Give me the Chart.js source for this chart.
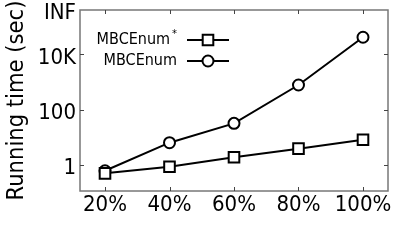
<!DOCTYPE html>
<html>
<head>
<meta charset="utf-8">
<script src="https://cdn.jsdelivr.net/npm/chart.js@4/dist/chart.umd.min.js"></script>
<style>
  html, body { margin: 0; padding: 0; background: #fff; }
</style>
</head>
<body>
<canvas id="report" width="407" height="244"></canvas>
<script>
const categories = ['20%', '40%', '60%', '80%', '100%'];
const mbcEnumStar = [0.5, 0.87, 1.9, 3.9, 8.2];
const mbcEnum = [0.62, 6.4, 32, 780, 41500];
const yTickValues = [1, 100, 10000, 400000];
const yTickLabels = ['1', '100', '10K', 'INF'];

const FONT = '"DejaVu Sans Condensed", "DejaVu Sans", sans-serif';

// inward tick marks + frame, like the gnuplot original
const frameTicks = {
    id: 'frameTicks',
    afterDatasetsDraw(chart) {
        const { ctx, chartArea: a, scales } = chart;
        ctx.save();
        ctx.strokeStyle = '#777';
        ctx.lineWidth = 1.5;
        ctx.strokeRect(a.left, a.top, a.right - a.left, a.bottom - a.top);
        ctx.strokeStyle = '#444';
        ctx.lineWidth = 1;
        ctx.beginPath();
        yTickValues.slice(0, 3).forEach(v => {
            const y = Math.round(scales.y.getPixelForValue(v)) + 0.5;
            ctx.moveTo(a.left, y); ctx.lineTo(a.left + 4, y);
            ctx.moveTo(a.right, y); ctx.lineTo(a.right - 4, y);
        });
        categories.forEach((c, i) => {
            const x = Math.round(scales.x.getPixelForValue(i)) + 0.5;
            ctx.moveTo(x, a.bottom); ctx.lineTo(x, a.bottom - 4);
            ctx.moveTo(x, a.top); ctx.lineTo(x, a.top + 4);
        });
        ctx.stroke();
        ctx.restore();
    }
};

// legend inside the plot: text first, then line sample with marker
const legendInside = {
    id: 'legendInside',
    afterDatasetsDraw(chart) {
        const { ctx, chartArea: a } = chart;
        chart.data.datasets.forEach((ds, i) => {
            const y = a.top + 30 + i * 21;
            const x0 = a.left + 107;
            ctx.save();
            ctx.fillStyle = '#000';
            ctx.textAlign = 'right';
            ctx.textBaseline = 'middle';
            let label = ds.label;
            let right = a.left + 97;
            if (label.endsWith('*')) {
                label = label.slice(0, -1);
                ctx.font = '11px ' + FONT;
                ctx.fillText('*', right, y - 6);
                right -= ctx.measureText('*').width + 2;
            }
            ctx.font = '16px ' + FONT;
            ctx.fillText(label, right, y);

            ctx.strokeStyle = '#000';
            ctx.lineWidth = 2;
            ctx.beginPath();
            ctx.moveTo(x0, y);
            ctx.lineTo(x0 + 42, y);
            ctx.stroke();

            const cx = x0 + 21;
            ctx.fillStyle = '#fff';
            ctx.beginPath();
            if (ds.pointStyle === 'rect') {
                const s = Math.SQRT1_2 * ds.pointRadius;
                ctx.rect(cx - s, y - s, 2 * s, 2 * s);
            } else {
                ctx.arc(cx, y, ds.pointRadius, 0, Math.PI * 2);
            }
            ctx.fill();
            ctx.stroke();
            ctx.restore();
        });
    }
};

const ctx = document.getElementById('report').getContext('2d');
let myChart = new Chart(ctx, {
    type: 'line',
    data: {
        datasets: [{
            label: 'MBCEnum*',
            data: mbcEnumStar.map((v, i) => ({ x: i, y: v })),
            borderColor: '#000',
            borderWidth: 2,
            pointStyle: 'rect',
            pointRadius: 7.5,
            pointBorderWidth: 2,
            pointBorderColor: '#000',
            pointBackgroundColor: '#fff'
        }, {
            label: 'MBCEnum',
            data: mbcEnum.map((v, i) => ({ x: i, y: v })),
            borderColor: '#000',
            borderWidth: 2,
            pointStyle: 'circle',
            pointRadius: 5.5,
            pointBorderWidth: 2,
            pointBorderColor: '#000',
            pointBackgroundColor: '#fff'
        }]
    },
    options: {
        responsive: false,
        animation: false,
        devicePixelRatio: 1,
        layout: { padding: { left: 0, right: 19, top: 10, bottom: 0 } },
        plugins: {
            legend: { display: false },
            tooltip: { enabled: false }
        },
        scales: {
            x: {
                type: 'linear',
                min: -0.3876,
                max: 4.3876,
                afterBuildTicks: scale => { scale.ticks = categories.map((c, i) => ({ value: i })); },
                afterFit: scale => {
                    scale.height = 53;
                    scale.paddingLeft = 0;
                    scale.paddingRight = 0;
                },
                grid: { display: false, drawTicks: false },
                border: { display: false },
                ticks: {
                    autoSkip: false,
                    maxRotation: 0,
                    padding: 1,
                    color: '#000',
                    font: { family: FONT, size: 22 },
                    callback: (v) => categories[v]
                }
            },
            y: {
                type: 'logarithmic',
                min: 0.115,
                max: 400000,
                afterBuildTicks: scale => { scale.ticks = yTickValues.map(v => ({ value: v })); },
                afterFit: scale => {
                    scale.width = 80;
                    scale.paddingTop = 0;
                    scale.paddingBottom = 0;
                },
                grid: { display: false, drawTicks: false },
                border: { display: false },
                title: {
                    display: true,
                    text: 'Running time (sec)',
                    color: '#000',
                    font: { family: FONT, size: 23.5 },
                    padding: { top: 3, bottom: 2 }
                },
                ticks: {
                    padding: 4,
                    color: '#000',
                    // empty first line nudges the label a few px down
                    font: { family: FONT, size: 22, lineHeight: 0.32 },
                    callback: (v, i) => ['', yTickLabels[i]]
                }
            }
        }
    },
    plugins: [frameTicks, legendInside]
});
</script>
</body>
</html>
